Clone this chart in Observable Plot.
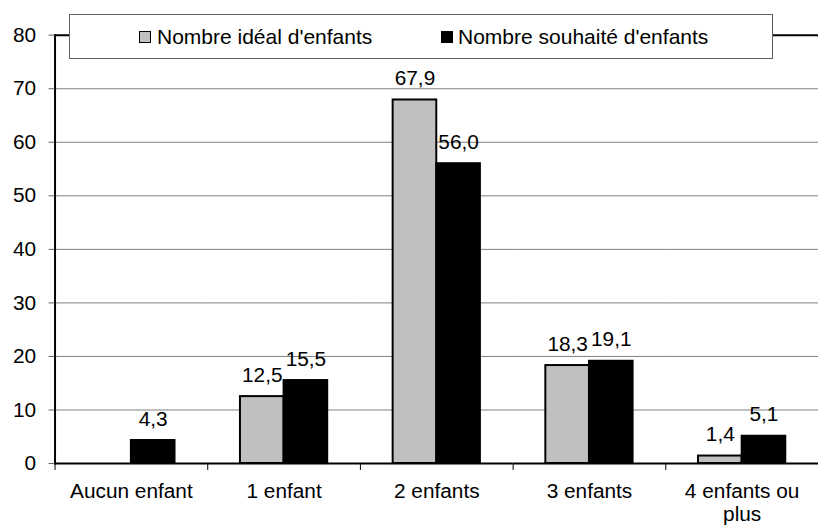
<!DOCTYPE html>
<html>
<head>
<meta charset="utf-8">
<script src="https://cdn.jsdelivr.net/npm/d3@7"></script>
<script src="https://cdn.jsdelivr.net/npm/@observablehq/plot@0.6"></script>
<style>
  html, body { margin: 0; padding: 0; background: #fff; }
  #wrap { position: relative; width: 819px; height: 526px; overflow: hidden; font-family: "Liberation Sans", Arial, sans-serif; }
  #legend { position: absolute; left: 69px; top: 14px; width: 702px; height: 43px; background: #fff; border: 1px solid #606060; }
  .item { position: absolute; top: 0; bottom: 0; display: flex; align-items: center; font-size: 21px; color: #000; white-space: nowrap; }
  .sw { position: absolute; top: 16px; width: 10px; height: 10px; border: 1.5px solid #000; }
</style>
</head>
<body>
<div id="wrap"></div>
<script>
const categories = ["Aucun enfant", "1 enfant", "2 enfants", "3 enfants", "4 enfants ou plus"];
const series = ["Nombre idéal d'enfants", "Nombre souhaité d'enfants"];
const ideal = [null, 12.5, 67.9, 18.3, 1.4];
const souhaite = [4.3, 15.5, 56.0, 19.1, 5.1];
const yTicks = [0, 10, 20, 30, 40, 50, 60, 70, 80];
const colors = ["#c0c0c0", "#000000"];

const data = categories.flatMap((c, i) => [
  {category: c, series: series[0], value: ideal[i]},
  {category: c, series: series[1], value: souhaite[i]}
]).filter(d => d.value != null);

const fmt = v => d3.format(".1f")(v).replace(".", ",");

const chart = Plot.plot({
  width: 826,
  height: 526,
  marginLeft: 54,
  marginRight: 0,
  marginTop: 35,
  marginBottom: 59,
  style: {fontFamily: "'Liberation Sans', Arial, sans-serif", fontSize: "21px", color: "#000", background: "#fff", overflow: "visible"},
  fx: {domain: categories, padding: 0, label: null},
  x: {domain: series, paddingInner: 0, paddingOuter: 0.72, axis: null},
  y: {domain: [0, 80]},
  color: {domain: series, range: colors},
  marks: [
    Plot.ruleY(yTicks.filter(t => t > 0 && t < 80), {stroke: "#808080", strokeWidth: 1}),
    Plot.barY(data, {fx: "category", x: "series", y: "value", fill: "series", stroke: "#000", strokeWidth: 2}),
    Plot.text(data, {fx: "category", x: "series", y: "value", text: d => fmt(d.value), lineAnchor: "bottom", dy: -15, fontSize: 21, fill: "#000"}),
    Plot.ruleY([0], {stroke: "#000", strokeWidth: 2}),
    Plot.ruleY([80], {stroke: "#000", strokeWidth: 2}),
    Plot.frame({anchor: "left", insetTop: 432, insetBottom: -6, stroke: "#000", strokeWidth: 1}),
    Plot.frame({anchor: "left", fx: [categories[0]], stroke: "#000", strokeWidth: 2}),
    Plot.axisY({ticks: yTicks, tickSize: 6, tickPadding: 13, fontSize: 21, stroke: "#606060", tickFormat: d => String(d), label: null}),
    Plot.axisFx({anchor: "bottom", tickSize: 0, tickPadding: 18, fontSize: 21, lineWidth: 7.3, lineHeight: 1.1, label: null})
  ]
});

const wrap = document.getElementById("wrap");
wrap.appendChild(chart);

const legend = document.createElement("div");
legend.id = "legend";
const lefts = [{sw: 69, tx: 87}, {sw: 371, tx: 388}];
series.forEach((s, i) => {
  const sw = document.createElement("div");
  sw.className = "sw";
  sw.style.left = lefts[i].sw + "px";
  sw.style.background = colors[i];
  legend.appendChild(sw);
  const it = document.createElement("div");
  it.className = "item";
  it.style.left = lefts[i].tx + "px";
  it.textContent = s;
  legend.appendChild(it);
});
wrap.appendChild(legend);
</script>
</body>
</html>
